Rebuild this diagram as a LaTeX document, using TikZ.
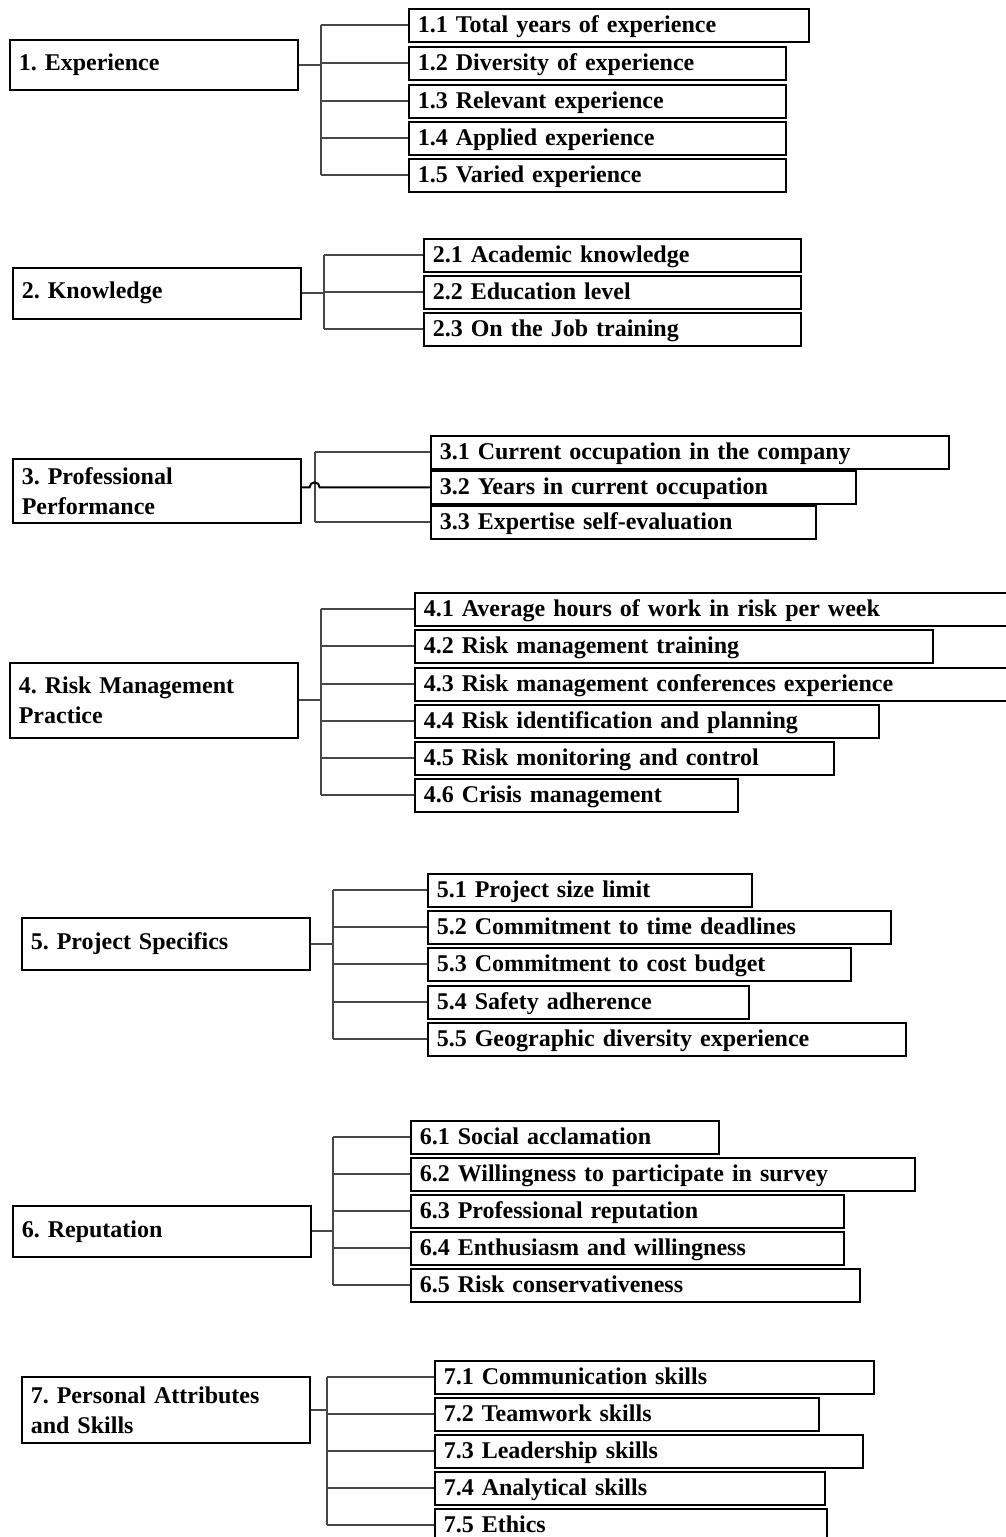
\documentclass[tikz,border=0pt]{standalone}
\usepackage{fontspec}
\setmainfont{Liberation Serif}
\usetikzlibrary{positioning}

\tikzset{
  box/.style={draw=black, line width=1.6pt, anchor=north west, inner xsep=9pt,
    inner ysep=0pt, align=left, font=\fontsize{24}{30}\selectfont\bfseries\frenchspacing},
  topic/.style={box, text width=270pt},
  item/.style={box, minimum height=33pt, text height=16pt, text depth=1pt},
  link/.style={draw=black!72, line width=2pt}
}

\begin{document}
\begin{tikzpicture}[x=1pt,y=-1pt]
\useasboundingbox (0,0) rectangle (1006,1537);

% 1. Experience
\node[topic, minimum height=50pt] (p1) at (9,39) {1. Experience};
\node[item, text width=382pt] (c11) at (408,8) {1.1 Total years of experience};
\node[item, text width=359pt] (c12) at (408,46) {1.2 Diversity of experience};
\node[item, text width=359pt] (c13) at (408,84) {1.3 Relevant experience};
\node[item, text width=359pt] (c14) at (408,121) {1.4 Applied experience};
\node[item, text width=359pt] (c15) at (408,158) {1.5 Varied experience};
\draw[link] (p1.east) -- ++(22,0) coordinate (t1);
\draw[link] (t1 |- c11.west) -- (t1 |- c15.west);
\draw[link] (t1 |- c11.west) -- (c11.west);
\draw[link] (t1 |- c12.west) -- (c12.west);
\draw[link] (t1 |- c13.west) -- (c13.west);
\draw[link] (t1 |- c14.west) -- (c14.west);
\draw[link] (t1 |- c15.west) -- (c15.west);

% 2. Knowledge
\node[topic, minimum height=51pt] (p2) at (12,267) {2. Knowledge};
\node[item, text width=359pt] (c21) at (423,238) {2.1 Academic knowledge};
\node[item, text width=359pt] (c22) at (423,275) {2.2 Education level};
\node[item, text width=359pt] (c23) at (423,312) {2.3 On the Job training};
\draw[link] (p2.east) -- ++(22,0) coordinate (t2);
\draw[link] (t2 |- c21.west) -- (t2 |- c23.west);
\draw[link] (t2 |- c21.west) -- (c21.west);
\draw[link] (t2 |- c22.west) -- (c22.west);
\draw[link] (t2 |- c23.west) -- (c23.west);

% 3. Professional Performance
\node[topic, minimum height=64pt] (p3) at (12,458) {3. Professional\\Performance};
\node[item, text width=500pt] (c31) at (430,435) {3.1 Current occupation in the company};
\node[item, text width=407pt] (c32) at (430,470) {3.2 Years in current occupation};
\node[item, text width=367pt] (c33) at (430,505) {3.3 Expertise self-evaluation};
\path (p3.east) ++(13,0) coordinate (t3);
\draw[link] (t3 |- c31.west) -- (t3 |- c33.west);
\draw[link] (t3 |- c31.west) -- (c31.west);
\draw[link] (t3 |- c33.west) -- (c33.west);
\draw[link, black] (p3.east |- c32.west) -- ++(8,0) arc (180:360:5) -- (c32.west);

% 4. Risk Management Practice
\node[topic, minimum height=75pt] (p4) at (9,662) {4. Risk Management\\Practice};
\node[item, text width=574pt] (c41) at (414,592) {4.1 Average hours of work in risk per week};
\node[item, text width=500pt] (c42) at (414,629) {4.2 Risk management training};
\node[item, text width=574pt] (c43) at (414,667) {4.3 Risk management conferences experience};
\node[item, text width=446pt] (c44) at (414,704) {4.4 Risk identification and planning};
\node[item, text width=401pt] (c45) at (414,741) {4.5 Risk monitoring and control};
\node[item, text width=305pt] (c46) at (414,778) {4.6 Crisis management};
\draw[link] (p4.east) -- ++(22,0) coordinate (t4);
\draw[link] (t4 |- c41.west) -- (t4 |- c46.west);
\draw[link] (t4 |- c41.west) -- (c41.west);
\draw[link] (t4 |- c42.west) -- (c42.west);
\draw[link] (t4 |- c43.west) -- (c43.west);
\draw[link] (t4 |- c44.west) -- (c44.west);
\draw[link] (t4 |- c45.west) -- (c45.west);
\draw[link] (t4 |- c46.west) -- (c46.west);

% 5. Project Specifics
\node[topic, minimum height=52pt] (p5) at (21,917) {5. Project Specifics};
\node[item, text width=306pt] (c51) at (427,873) {5.1 Project size limit};
\node[item, text width=445pt] (c52) at (427,910) {5.2 Commitment to time deadlines};
\node[item, text width=405pt] (c53) at (427,947) {5.3 Commitment to cost budget};
\node[item, text width=303pt] (c54) at (427,985) {5.4 Safety adherence};
\node[item, text width=460pt] (c55) at (427,1022) {5.5 Geographic diversity experience};
\draw[link] (p5.east) -- ++(22,0) coordinate (t5);
\draw[link] (t5 |- c51.west) -- (t5 |- c55.west);
\draw[link] (t5 |- c51.west) -- (c51.west);
\draw[link] (t5 |- c52.west) -- (c52.west);
\draw[link] (t5 |- c53.west) -- (c53.west);
\draw[link] (t5 |- c54.west) -- (c54.west);
\draw[link] (t5 |- c55.west) -- (c55.west);

% 6. Reputation
\node[topic, minimum height=51pt, text width=280pt] (p6) at (12,1205) {6. Reputation};
\node[item, text width=290pt] (c61) at (410,1120) {6.1 Social acclamation};
\node[item, text width=486pt] (c62) at (410,1157) {6.2 Willingness to participate in survey};
\node[item, text width=415pt] (c63) at (410,1194) {6.3 Professional reputation};
\node[item, text width=415pt] (c64) at (410,1231) {6.4 Enthusiasm and willingness};
\node[item, text width=431pt] (c65) at (410,1268) {6.5 Risk conservativeness};
\draw[link] (p6.east) -- ++(21,0) coordinate (t6);
\draw[link] (t6 |- c61.west) -- (t6 |- c65.west);
\draw[link] (t6 |- c61.west) -- (c61.west);
\draw[link] (t6 |- c62.west) -- (c62.west);
\draw[link] (t6 |- c63.west) -- (c63.west);
\draw[link] (t6 |- c64.west) -- (c64.west);
\draw[link] (t6 |- c65.west) -- (c65.west);

% 7. Personal Attributes and Skills
\node[topic, minimum height=66pt] (p7) at (21,1376) {7. Personal Attributes\\and Skills};
\node[item, text width=421pt] (c71) at (434,1360) {7.1 Communication skills};
\node[item, text width=366pt] (c72) at (434,1397) {7.2 Teamwork skills};
\node[item, text width=410pt] (c73) at (434,1434) {7.3 Leadership skills};
\node[item, text width=372pt] (c74) at (434,1471) {7.4 Analytical skills};
\node[item, text width=374pt] (c75) at (434,1508) {7.5 Ethics};
\draw[link] (p7.east) -- ++(16,0) coordinate (t7);
\draw[link] (t7 |- c71.west) -- (t7 |- c75.west);
\draw[link] (t7 |- c71.west) -- (c71.west);
\draw[link] (t7 |- c72.west) -- (c72.west);
\draw[link] (t7 |- c73.west) -- (c73.west);
\draw[link] (t7 |- c74.west) -- (c74.west);
\draw[link] (t7 |- c75.west) -- (c75.west);
\end{tikzpicture}
\end{document}
